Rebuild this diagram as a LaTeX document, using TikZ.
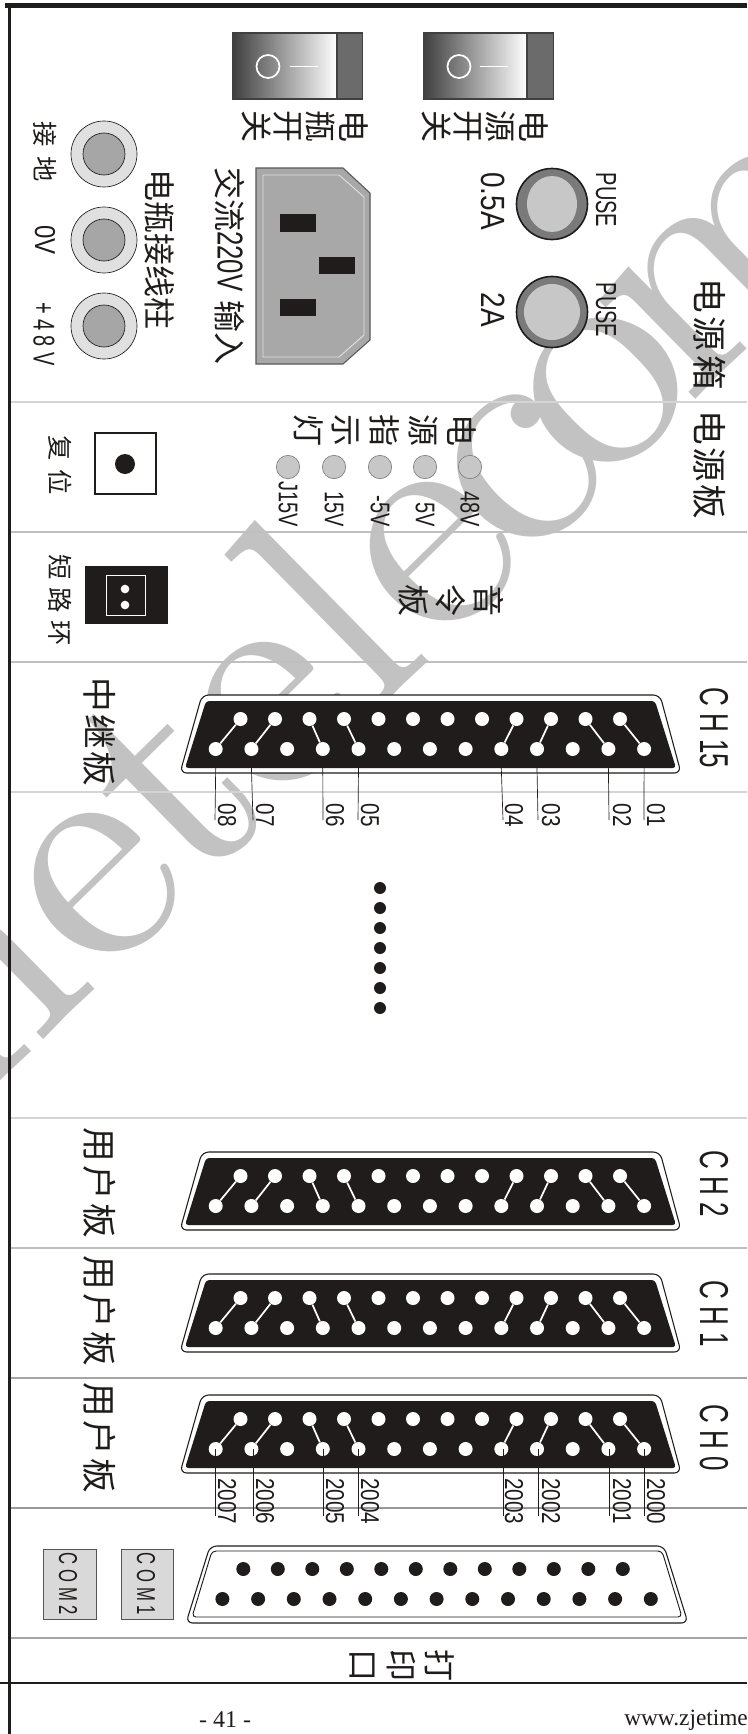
\documentclass[tikz,border=0pt]{standalone}
\usepackage{graphicx}
\usepackage{fontspec}
\setmainfont{Liberation Sans}
\newfontfamily\cjk{Noto Sans CJK SC}
\newfontfamily\serf{Liberation Serif}
\newfontfamily\wmf{lmroman10-regular.otf}
\newcommand\tall[2]{\scalebox{1}[#1]{#2}}
\newcommand\fs[2]{\fontsize{#1pt}{#2pt}\selectfont}
\definecolor{ink}{HTML}{1F1C1B}
\definecolor{wm}{HTML}{C2C2C2}
\tikzset{
  rt/.style={rotate=-90,inner sep=0pt,align=center},
  cnbig/.style={rt,font=\cjk\fs{24}{24.2},text=ink},
  cnlarge/.style={rt,font=\cjk\fs{26}{27},text=ink},
  cnsmall/.style={rt,font=\cjk\fs{19}{24},text=ink},
  lat/.style={rt,font=\fs{#1}{#1},text=ink},
  sepline/.style={draw=#1,line width=0.9pt},
  pinw/.style={circle,fill=white,minimum size=10.5pt,inner sep=0pt},
  pinb/.style={circle,fill=ink,minimum size=10.5pt,inner sep=0pt},
  link/.style={draw=white,line width=1.3pt},
  wire/.style={draw=ink,line width=0.5pt},
  post/.style={circle,draw=ink,line width=0.5pt,fill=#1,inner sep=0pt},
  led/.style={circle,draw=gray,line width=0.5pt,fill=black!22,minimum size=17.5pt,inner sep=0pt},
  dotb/.style={circle,fill=ink,minimum size=9pt,inner sep=0pt},
  combox/.style={draw=ink!75,line width=0.6pt,fill=black!15,minimum width=39.5pt,minimum height=52.5pt,inner sep=0pt},
}
% black plug: #1 name, #2 y of outer top
\newcommand\dsubblack[2]{%
  \begin{scope}[shift={(0,#2)}]
    \draw[ink,fill=white,line width=0.8pt,rounded corners=5pt] (180,78) -- (202,0) -- (660,0) -- (681,78) -- cycle;
    \fill[ink,rounded corners=2.5pt] (185,73) -- (206,6) -- (655,6) -- (676,73) -- cycle;
    \foreach \i in {0,...,11} \node[pinw] (#1t\i) at ({240.5+34.5*\i},24) {};
    \foreach \i in {0,...,12} \node[pinw] (#1b\i) at ({215.7+35.7*\i},54) {};
    \foreach \a/\b in {0/0,1/1,3/2,4/3,8/8,9/9,11/10,12/11} \draw[link] (#1b\a) -- (#1t\b);
  \end{scope}}
\begin{document}
\begin{tikzpicture}[x=0.75pt,y=-0.75pt]
\clip (0,0) rectangle (747,1734);
\fill[white] (0,0) rectangle (747,1734);
% watermark
\node[anchor=base west,rotate=44.5,inner sep=0pt,text=wm,font=\wmf\fs{240}{240}] (wmark) at (-91,1172) {me\kern-9pt t\kern-9pt e\kern-3pt l\kern2pt e\kern-18pt c\kern-26pt o\kern-24pt m};
% frame
\fill[ink] (5,3) rectangle (747,8);
\fill[ink] (8,3) rectangle (11,1734);
\fill[ink] (0,1682) rectangle (747,1684);
% separators
\foreach \yy/\cc in {402/black!17,532/black!25,662/black!25,792/black!17,1118/black!17,1248/black!25,1378/black!35,1508/black!40,1638/black!35}
  \draw[sepline=\cc] (11,\yy) -- (747,\yy);
% rocker switches
\foreach \nm/\xx/\dd/\cx/\la/\lb in {a/424/527/459/480/508,b/233/337/268/290/318}{
  \shade[left color=black!75,right color=white] (\xx,33) rectangle (\dd,99);
  \fill[black!58] (\dd,33) rectangle ({\xx+129.5},99);
  \draw[black!75,line width=0.8pt] (\xx,33) rectangle ({\xx+129.5},99);
  \draw[black!75,line width=0.8pt] (\dd,33) -- (\dd,99);
  \draw[white,line width=1.3pt] (\cx,66.5) circle (11.5);
  \draw[white,line width=1.3pt] (\la,66.5) -- (\lb,66.5);
}
\node[cnbig] (lswa) at (485,126) {电\\源\\开\\关};
\node[cnbig] (lswb) at (305,126) {电\\瓶\\开\\关};
% fuses
\fill[black!52] (552,204) circle (35.5);
\draw[ink,line width=1.2pt] (552,204) circle (35.5);
\fill[black!22] (552,204) ellipse (25 and 28);
\fill[black!52] (552,312) circle (35.5);
\draw[ink,line width=1.2pt] (552,312) circle (35.5);
\fill[black!22] (552,312) ellipse (28 and 28);
\node[lat=15] (puse1) at (606,200) {\tall{1.45}{PUSE}};
\node[lat=15] (puse2) at (606,310) {\tall{1.45}{PUSE}};
\node[lat=21] (f05) at (493,201) {\tall{1.2}{0.5A}};
\node[lat=21] (f2) at (493,310) {\tall{1.2}{2A}};
\node[cnlarge] (lbox) at (710,334) {电\kern3pt 源\kern3pt 箱};
\node[cnlarge] (lpwr) at (710,465) {电\kern2pt 源\kern2pt 板};
% AC inlet
\draw[black!65,fill=black!34,line width=0.8pt] (256,168) -- (343,168) -- (370,193) -- (370,340) -- (343,364) -- (256,364) -- cycle;
\draw[black!12,line width=0.7pt] (263,175) -- (339,175) -- (364,197) -- (364,335) -- (339,357) -- (263,357) -- cycle;
\fill[ink] (280,214) rectangle (316,232);
\fill[ink] (280,299) rectangle (316,316);
\fill[ink] (319,257) rectangle (355,274);
\node[cnbig] (lac) at (230,266) {交流\tall{1.4}{\fontsize{19.3pt}{20pt}\selectfont\rmfamily 220V}\kern7pt 输入};
% battery posts
\foreach \nm/\yy in {p1/154,p2/240,p3/326}{
  \node[post=black!12,minimum size=49.5pt] (\nm o) at (104,\yy) {};
  \node[post=black!35,minimum size=31.5pt] (\nm i) at (104,\yy) {};
}
\node[cnbig] (lbat) at (160,249) {电瓶接线柱};
\node[cnsmall] (lgnd) at (45,152) {接\kern7pt 地};
\node[lat=18] (l0v) at (45,240) {\tall{1.2}{0V}};
\node[lat=15] (l48) at (44,334) {\tall{1.5}{+ 4 8 V}};
% indicator lamps
\node[cnbig,font=\cjk\fs{24}{28.7}] (lind) at (385,430) {电\\源\\指\\示\\灯};
\foreach \nm/\xx/\tx in {l48/470/48V,l5/425/5V,lm5/380/-5V,l15/334/15V,lj/288/J15V}{
  \node[led] (\nm) at (\xx,467) {};
  \node[lat=15,anchor=east] (t\nm) at (\xx,527) {\tall{1.35}{\tx}};
}
% reset
\draw[ink,line width=1.8pt,fill=white] (95,433) rectangle (156,494);
\node[dotb,minimum size=15pt] (rdot) at (125,464) {};
\node[cnsmall] (lrst) at (60,465) {复\kern7pt 位};
% command board
\node[cnbig,font=\cjk\fs{24}{28}] (lcmd) at (451,600) {音\\令\\板};
% short loop
\fill[ink] (85,566) rectangle (168,624);
\draw[white,line width=0.7pt] (106,575) rectangle (145,615);
\node[pinw,minimum size=6.5pt] (sd1) at (125,589) {};
\node[pinw,minimum size=6.5pt] (sd2) at (125,605) {};
\node[cnsmall] (lsht) at (60,600) {短\kern6pt 路\kern6pt 环};
% trunk board plug
\dsubblack{ca}{695}
\foreach \i/\wx/\lx/\lab in {0/215/227/08,1/253/265/07,3/323/335/06,4/358/370/05,8/503/514/04,9/538/551/03,11/609/622/02,12/644/656/01}{
  \coordinate (wa\i) at (\wx,820);
  \draw[wire] (cab\i.south |- 0,768) -- (wa\i);
  \node[lat=15.5] (nwa\i) at (\lx,815) {\tall{1.25}{\lab}};
}
\node[lat=19.5] (lch15) at (714,728) {\tall{1.55}{C H 15}};
\node[cnlarge] (ltrk) at (100,732) {中\kern2pt 继\kern2pt 板};
% ellipsis dots
\foreach \i/\yy in {1/888,2/908,3/928,4/948,5/968,6/988,7/1008} \node[dotb] (d\i) at (380,\yy) {};
% user board plugs
\dsubblack{cc}{1152}
\node[lat=19.5] (lch2) at (714,1184) {\tall{1.55}{C H 2}};
\node[cnlarge] (lu2) at (100,1183) {用\kern2.5pt 户\kern2.5pt 板};
\dsubblack{cb}{1274}
\node[lat=19.5] (lch1) at (714,1314) {\tall{1.55}{C H 1}};
\node[cnlarge] (lu1) at (100,1311) {用\kern2.5pt 户\kern2.5pt 板};
\dsubblack{cd}{1395}
\node[lat=19.5] (lch0) at (714,1438) {\tall{1.55}{C H 0}};
\node[cnlarge] (lu0) at (100,1438) {用\kern2.5pt 户\kern2.5pt 板};
\foreach \i/\wx/\lx/\lab in {0/215/227/2007,1/253/265/2006,3/323/335/2005,4/358/370/2004,8/503/514/2003,9/538/551/2002,11/609/622/2001,12/644/656/2000}{
  \coordinate (wd\i) at (\wx,1516);
  \draw[wire] (cdb\i.center -| wd\i) -- (wd\i);
  \node[lat=15.5] (nwd\i) at (\lx,1501) {\tall{1.25}{\lab}};
}
% printer port
\draw[ink,fill=white,line width=0.8pt,rounded corners=5pt] (186,1623) -- (210,1546) -- (664,1546) -- (688,1623) -- cycle;
\draw[ink,line width=0.7pt,rounded corners=3pt] (192,1617) -- (212,1551) -- (662,1551) -- (682,1617) -- cycle;
\foreach \i in {0,...,11} \node[pinb] (pt\i) at ({243.3+34.5*\i},1569) {};
\foreach \i in {0,...,12} \node[pinb] (pb\i) at ({222.4+35.7*\i},1599) {};
\node[combox] (com1) at (147.5,1584) {};
\node[combox] (com2) at (70,1584) {};
\node[lat=12.5] (tcom1) at (146,1584) {\tall{1.55}{C O M 1}};
\node[lat=12.5] (tcom2) at (68,1584) {\tall{1.55}{C O M 2}};
\node[cnbig,font=\cjk\fs{24}{28.5}] (lprn) at (402,1665) {打\\印\\口};
% footer
\node[inner sep=0pt,font=\serf\fs{18}{20},text=ink] (pg) at (225,1720) {- 41 -};
\node[inner sep=0pt,anchor=west,font=\serf\fs{17.5}{20},text=ink] (web) at (624,1720) {www.zjetime};
\end{tikzpicture}
\end{document}
